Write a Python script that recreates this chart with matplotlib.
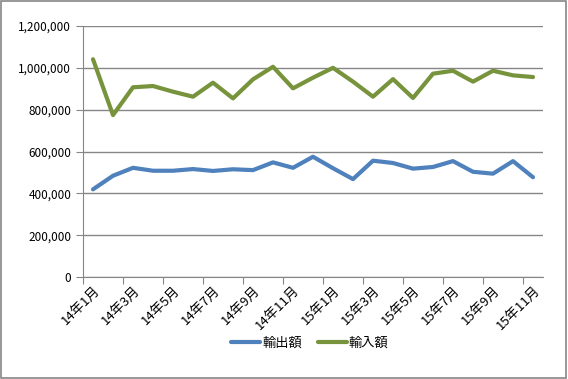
import matplotlib.pyplot as plt
from matplotlib.ticker import FuncFormatter, FixedLocator

plt.rcParams["font.family"] = ["Noto Sans CJK JP", "DejaVu Sans"]

# -------------------------------------------------------
# data
# -------------------------------------------------------
months = ["14年1月", "14年2月", "14年3月", "14年4月", "14年5月", "14年6月",
          "14年7月", "14年8月", "14年9月", "14年10月", "14年11月", "14年12月",
          "15年1月", "15年2月", "15年3月", "15年4月", "15年5月", "15年6月",
          "15年7月", "15年8月", "15年9月", "15年10月", "15年11月"]

exports = [419000, 484000, 522000, 508000, 508000, 516000, 507000, 515000,
           511000, 548000, 522000, 575000, 520000, 468000, 556000, 545000,
           518000, 526000, 554000, 503000, 494000, 554000, 477000]

imports = [1041000, 774000, 907000, 913000, 886000, 862000, 929000, 854000,
           945000, 1005000, 902000, 953000, 1000000, 934000, 862000, 946000,
           856000, 972000, 986000, 934000, 986000, 964000, 956000]

GRAY = "#868686"

fig = plt.figure(figsize=(5.68, 3.79), dpi=100)
ax = fig.add_axes([83 / 568, 1 - 277 / 379, 460 / 568, 251 / 379])

x = list(range(len(months)))
ax.plot(x, exports, color="#4F81BD", linewidth=3, label="輸出額",
        solid_capstyle="round", solid_joinstyle="round")
ax.plot(x, imports, color="#77933C", linewidth=3, label="輸入額",
        solid_capstyle="round", solid_joinstyle="round")

ax.set_xlim(-0.5, len(months) - 0.5)
ax.set_ylim(0, 1200000)
ax.set_yticks(range(0, 1200001, 200000))
ax.yaxis.set_major_formatter(FuncFormatter(lambda v, p: f"{v:,.0f}"))
ax.grid(axis="y", color=GRAY, linewidth=1)
ax.set_axisbelow(True)

# tick marks between categories, labels on every second category
ax.xaxis.set_major_locator(FixedLocator([i - 0.5 for i in range(0, len(months) + 1, 2)]))
ax.xaxis.set_major_formatter(FuncFormatter(lambda v, p: ""))
ax.set_xticks(x[::2], minor=True)
ax.set_xticklabels(months[::2], minor=True, rotation=45, ha="right", va="top",
                   rotation_mode="anchor", fontsize=9.5)
ax.tick_params(axis="x", which="minor", length=0, pad=5)
ax.tick_params(axis="y", which="major", labelsize=8.5)
ax.tick_params(axis="both", which="major", color=GRAY, length=5, direction="out")

for side in ["top", "right"]:
    ax.spines[side].set_visible(False)
for side in ["left", "bottom"]:
    ax.spines[side].set_color(GRAY)

fig.legend(loc="center", bbox_to_anchor=(310 / 568, 1 - 343 / 379), ncol=2,
           frameon=False, fontsize=9.5, handlelength=2.2, handletextpad=0.15,
           columnspacing=1.2)

# outer chart border
fig.add_artist(plt.Rectangle((0.002, 0.003), 0.994, 0.994, transform=fig.transFigure,
                             fill=False, edgecolor=GRAY, linewidth=1.2))

plt.savefig("out.png", dpi=100)
plt.close()
